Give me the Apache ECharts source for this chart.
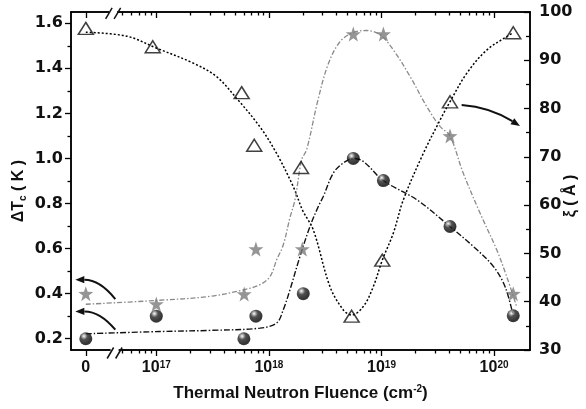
<!DOCTYPE html>
<html><head><meta charset="utf-8">
<script src="https://cdn.jsdelivr.net/npm/echarts@6/dist/echarts.min.js"></script>
<style>html,body{margin:0;padding:0;background:#fff}#c{width:586px;height:409px}</style>
</head><body><div id="c"></div>
<script>
// ---------- data (fluence in cm^-2; 0 = unirradiated) ----------
const triFluence  = [0, 9.3e16, 5.73e17, 7.41e17, 1.93e18, 5.43e18, 1.016e19, 4.06e19, 1.48e20];
const triXi       = [96.6, 92.8, 83.3, 72.4, 67.8, 37.0, 48.6, 81.4, 95.7];          // ξ (Å)
const starFluence = [0, 1.0e17, 6.03e17, 7.67e17, 1.98e18, 5.62e18, 1.04e19, 4.06e19, 1.48e20];
const starDTc     = [0.40, 0.354, 0.398, 0.598, 0.598, 1.552, 1.552, 1.10, 0.40];    // ΔTc (K)
const ballFluence = [0, 1.0e17, 6.0e17, 7.67e17, 2.02e18, 5.62e18, 1.04e19, 4.06e19, 1.48e20];
const ballDTc     = [0.20, 0.30, 0.20, 0.30, 0.40, 1.00, 0.902, 0.698, 0.302];       // ΔTc (K)

// fit curves: x = log10(fluence), 0 means fluence 0
const triFitLogF  = [0, 16.737, 17.004, 17.329, 17.536, 17.714, 17.921, 18.069, 18.217, 18.30, 18.394, 18.543, 18.661, 18.735, 18.838, 18.927, 19.007, 19.105, 19.194, 19.371, 19.52, 19.608, 19.757, 19.934, 20.112, 20.17];
const triFitXi    = [95.8, 95.0, 92.5, 89.4, 86.6, 82.1, 76.2, 70.7, 63.8, 58.9, 54.9, 43.1, 38.3, 37.25, 39.0, 43.1, 48.6, 54.2, 61.1, 70.7, 77.6, 81.4, 87.3, 92.1, 94.9, 95.7];
const starFitLogF = [0, 17.004, 17.477, 17.773, 17.921, 18.01, 18.069, 18.128, 18.187, 18.232, 18.291, 18.336, 18.436, 18.525, 18.631, 18.75, 18.869, 18.987, 19.105, 19.254, 19.401, 19.52, 19.608, 19.726, 19.875, 20.023, 20.112, 20.20];
const starFitDTc  = [0.353, 0.370, 0.388, 0.417, 0.440, 0.476, 0.550, 0.617, 0.737, 0.817, 0.994, 1.04, 1.26, 1.416, 1.518, 1.559, 1.568, 1.549, 1.482, 1.364, 1.231, 1.142, 1.10, 0.935, 0.758, 0.595, 0.476, 0.343];
const ballFitLogF = [0, 17.033, 17.477, 17.921, 18.069, 18.128, 18.187, 18.276, 18.365, 18.439, 18.483, 18.572, 18.661, 18.75, 18.838, 19.016, 19.313, 19.608, 19.815, 19.993, 20.097, 20.17];
const ballFitDTc  = [0.222, 0.232, 0.237, 0.247, 0.270, 0.329, 0.417, 0.565, 0.698, 0.787, 0.831, 0.935, 0.980, 1.0, 0.987, 0.902, 0.817, 0.698, 0.610, 0.521, 0.432, 0.302];

// axis ticks
const xMajorFluence = [0, 1e17, 1e18, 1e19, 1e20];
const xMajorLabels  = ['0', '17', '18', '19', '20'];
const xMinorFluence = [5e16,6e16,7e16,8e16,9e16, 2e17,3e17,4e17,5e17,6e17,7e17,8e17,9e17,
                       2e18,3e18,4e18,5e18,6e18,7e18,8e18,9e18, 2e19,3e19,4e19,5e19,6e19,7e19,8e19,9e19];
const leftMajor = [0.2,0.4,0.6,0.8,1.0,1.2,1.4,1.6];
const leftMinor = [0.3,0.5,0.7,0.9,1.1,1.3,1.5];
const rightMajor = [30,40,50,60,70,80,90,100];
const rightMinor = [35,45,55,65,75,85,95];

// ---------- broken log scale ----------
const ZERO_POS = 16.374;      // where fluence 0 sits on the broken axis
const BREAK_POS = 16.63;      // axis break
const X_MIN = 16.2425, X_MAX = 20.319;
const fx = f => f === 0 ? ZERO_POS : Math.log10(f);
const fl = l => l === 0 ? ZERO_POS : l;

const FONT = "'Liberation Sans', Arial, sans-serif";
const YFONT = "'DejaVu Sans', sans-serif";
const chart = echarts.init(document.getElementById('c'), null, {renderer:'canvas'});

const lineC = '#000';
function xAxisCfg(pos, vals, len, inside, labels){
  return {type:'value', position:pos, min:X_MIN, max:X_MAX,
    axisLine:{show:true, onZero:false, lineStyle:{color:lineC, width:1.5}},
    axisTick:{show:true, customValues:vals, length:len, inside:inside, lineStyle:{color:lineC, width:1.3}},
    axisLabel: labels ? {show:true, customValues:xMajorFluence.map(fx), margin:10,
       formatter:(v)=>{ const i = xMajorFluence.map(fx).findIndex(p=>Math.abs(p-v)<1e-6);
         return i===0 ? '{b|0}' : '{b|10}{s|'+xMajorLabels[i]+'}'; },
       rich:{b:{fontFamily:FONT,fontWeight:'bold',fontSize:16,color:'#111',verticalAlign:'bottom'},
             s:{fontFamily:FONT,fontWeight:'bold',fontSize:10,color:'#111',verticalAlign:'top',padding:[0,0,6,0]}}} : {show:false},
    splitLine:{show:false}};
}
function yAxisCfg(pos, min, max, vals, len, inside, labels, fmt){
  return {type:'value', position:pos, min:min, max:max,
    axisLine:{show:true, onZero:false, lineStyle:{color:lineC, width:1.5}},
    axisTick:{show:true, customValues:vals, length:len, inside:inside, lineStyle:{color:lineC, width:1.3}},
    axisLabel: labels ? {show:true, customValues:vals, margin:8, formatter:fmt,
       fontFamily:YFONT, fontWeight:'bold', fontSize:16, color:'#111'} : {show:false},
    splitLine:{show:false}};
}

const xa0 = xAxisCfg('bottom', xMajorFluence.map(fx), 6, false, true);
xa0.name = '{t|Thermal Neutron Fluence (cm}{s|-2}{t|)}';
xa0.nameLocation = 'middle'; xa0.nameGap = 34;
xa0.nameTextStyle = {rich:{t:{fontFamily:FONT,fontWeight:'bold',fontSize:17,color:'#111'},
                           s:{fontFamily:FONT,fontWeight:'bold',fontSize:10,color:'#111',verticalAlign:'top',padding:[0,0,8,0]}}};
const ya0 = yAxisCfg('left', 0.15, 1.65, leftMajor, 6, false, true, v=>v.toFixed(1));
ya0.name = '{t|ΔT}{s|c}{t| ( K )}'; ya0.nameLocation='middle'; ya0.nameGap = 52; ya0.nameRotate = 90;
ya0.nameMoveOverlap = false;
ya0.nameTextStyle = {verticalAlign:'middle', padding:[0,0,0,-20], rich:{t:{fontFamily:FONT,fontWeight:'bold',fontSize:16,color:'#111'},
                           s:{fontFamily:FONT,fontWeight:'bold',fontSize:10,color:'#111',padding:[8,0,0,0]}}};
const ya2 = yAxisCfg('right', 30, 100, rightMajor, 6, true, true, v=>String(v));
ya2.axisLabel.margin = 9;
ya2.name = 'ξ ( Å )'; ya2.nameLocation='middle'; ya2.nameGap = 41; ya2.nameRotate = 90;
ya2.nameMoveOverlap = false;
ya2.nameTextStyle = {verticalAlign:'middle', fontFamily:FONT, fontWeight:'bold', fontSize:16, color:'#111', padding:[0,0,0,-30]};

const ballColor = {type:'radial', x:0.36, y:0.3, r:0.8, colorStops:[
  {offset:0, color:'#ffffff'},{offset:0.12, color:'#b0b0b0'},{offset:0.35, color:'#252525'},{offset:0.8, color:'#000'},{offset:1, color:'#333'}]};
const STAR = 'path://M0,-10 L2.35,-3.24 L9.51,-3.09 L3.8,1.24 L5.88,8.09 L0,4 L-5.88,8.09 L-3.8,1.24 L-9.51,-3.09 L-2.35,-3.24 Z';

const option = {
  backgroundColor:'#fff',
  animation:false,
  grid:{left:71, right:56, top:12, bottom:59, containLabel:false, outerBoundsMode:'none'},
  xAxis:[xa0,
         xAxisCfg('bottom', xMinorFluence.map(fx), 3.5, false, false),
         xAxisCfg('top', xMajorFluence.map(fx), 6, true, false),
         xAxisCfg('top', xMinorFluence.map(fx), 3.5, true, false)],
  yAxis:[ya0,
         yAxisCfg('left', 0.15, 1.65, leftMinor, 3.5, false, false),
         ya2,
         yAxisCfg('right', 30, 100, rightMinor, 4, true, false)],
  series:[
    {type:'line', name:'triFit', yAxisIndex:2, data:triFitLogF.map((v,i)=>[fl(v), triFitXi[i]]),
     smooth:0.35, showSymbol:false, symbol:'none', lineStyle:{color:'#000', width:1.5, type:[2,2]}, z:2},
    {type:'line', name:'starFit', yAxisIndex:0, data:starFitLogF.map((v,i)=>[fl(v), starFitDTc[i]]),
     smooth:0.35, showSymbol:false, symbol:'none', lineStyle:{color:'#8a8a8a', width:1.3, type:[5,2,1.5,2]}, z:2},
    {type:'line', name:'ballFit', yAxisIndex:0, data:ballFitLogF.map((v,i)=>[fl(v), ballFitDTc[i]]),
     smooth:0.35, showSymbol:false, symbol:'none', lineStyle:{color:'#111', width:1.4, type:[6,2,1.5,2]}, z:2},
    {type:'scatter', name:'ξ', yAxisIndex:2, data:triFluence.map((f,i)=>[fx(f), triXi[i]]),
     symbol:'triangle', symbolSize:[15,12], itemStyle:{color:'rgba(255,255,255,0)', borderColor:'#111', borderWidth:1.5}, z:5},
    {type:'scatter', name:'starDTc', yAxisIndex:0, data:starFluence.map((f,i)=>[fx(f), starDTc[i]]),
     symbol:STAR, symbolSize:15, itemStyle:{color:'#7a7a7a'}, z:5},
    {type:'scatter', name:'ballDTc', yAxisIndex:0, data:ballFluence.map((f,i)=>[fx(f), ballDTc[i]]),
     symbol:'circle', symbolSize:13, itemStyle:{color:ballColor}, z:6}
  ]
};
chart.setOption(option);

// ---------- annotations: arrows and axis-break marks ----------
const px = v => chart.convertToPixel({xAxisIndex:0}, v);
const pyL = v => chart.convertToPixel({yAxisIndex:0}, v);
const pyR = v => chart.convertToPixel({yAxisIndex:2}, v);
function arrow(t, c, h){
  const ang = Math.atan2(h[1]-c[1], h[0]-c[0]);
  const L = 9, W = 3.6;
  const bx = h[0]-L*Math.cos(ang), by = h[1]-L*Math.sin(ang);
  return [
    {type:'bezierCurve', shape:{x1:t[0],y1:t[1],cpx1:c[0],cpy1:c[1],x2:bx,y2:by},
     style:{stroke:'#111', lineWidth:2, fill:null}, z:10},
    {type:'polygon', shape:{points:[h,[bx+W*Math.sin(ang), by-W*Math.cos(ang)],[bx-W*Math.sin(ang), by+W*Math.cos(ang)]]},
     style:{fill:'#111'}, z:10}
  ];
}
const g = [];
g.push(...arrow([px(16.636), pyL(0.376)], [px(16.50), pyL(0.462)], [px(16.281), pyL(0.462)]));
g.push(...arrow([px(16.636), pyL(0.240)], [px(16.50), pyL(0.322)], [px(16.281), pyL(0.321)]));
g.push(...arrow([px(19.712), pyR(80.74)], [px(19.963), pyR(80.3)], [px(20.23), pyR(76.39)]));
const bx = px(BREAK_POS);
[[pyL(0.15)+3, bx], [pyL(1.65)+1.3, bx-1.5]].forEach(([y, cx])=>{
  g.push({type:'rect', shape:{x:cx-4, y:y-5, width:8, height:7}, style:{fill:'#fff'}, z:9});
  g.push({type:'line', shape:{x1:cx-7.5, y1:y+5.5, x2:cx-1, y2:y-5.5}, style:{stroke:'#111', lineWidth:1.5}, z:10});
  g.push({type:'line', shape:{x1:cx+1, y1:y+5.5, x2:cx+7.5, y2:y-5.5}, style:{stroke:'#111', lineWidth:1.5}, z:10});
});
chart.setOption({graphic:{elements:g}});
</script></body></html>
